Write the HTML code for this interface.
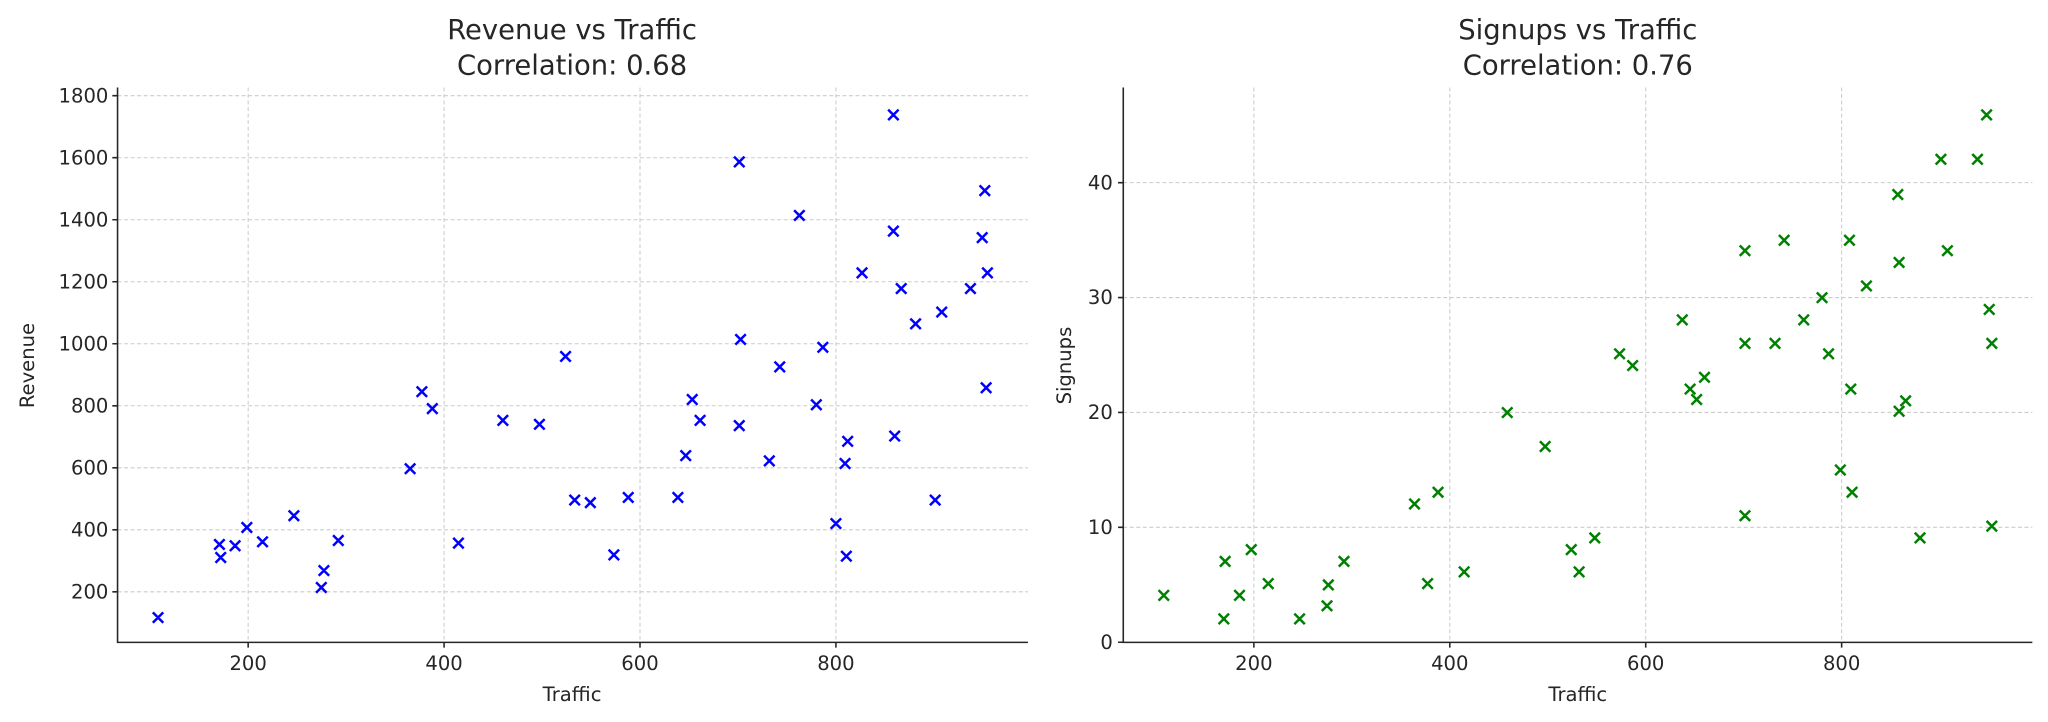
<!DOCTYPE html>
<html><head><meta charset="utf-8"><style>
html,body{margin:0;padding:0;background:#fff;}
svg{display:block;}
text{font-family:"DejaVu Sans","Liberation Sans",sans-serif;fill:#262626;}
</style></head><body>
<svg width="2048" height="722" viewBox="0 0 1568 553" preserveAspectRatio="none" xmlns="http://www.w3.org/2000/svg">
<rect width="1568" height="553" fill="#fff"/>
<g stroke="#cccccc" stroke-width="0.8" stroke-dasharray="3,2" fill="none">
<path d="M90 73.3H787M90 120.8H787M90 168.3H787M90 215.8H787M90 263.3H787M90 310.8H787M90 358.3H787M90 405.8H787M90 453.3H787"/>
<path d="M190 67V492M340 67V492M490 67V492M640 67V492"/>
<path d="M860 139.9H1556M860 227.9H1556M860 315.9H1556M860 403.9H1556M860 491.9H1556"/>
<path d="M960 67V492M1110 67V492M1260 67V492M1410 67V492"/>
</g>
<g stroke="#262626" stroke-width="1.2" fill="none">
<path d="M90 67V492H787"/>
<path d="M860 67V492H1556"/>
<path d="M90 73.3h-4M90 120.8h-4M90 168.3h-4M90 215.8h-4M90 263.3h-4M90 310.8h-4M90 358.3h-4M90 405.8h-4M90 453.3h-4"/>
<path d="M190 492v4M340 492v4M490 492v4M640 492v4"/>
<path d="M860 139.9h-4M860 227.9h-4M860 315.9h-4M860 403.9h-4M860 491.9h-4"/>
<path d="M960 492v4M1110 492v4M1260 492v4M1410 492v4"/>
</g>
<g font-size="15" text-anchor="end">
<text x="83" y="78.5">1800</text><text x="83" y="126">1600</text><text x="83" y="173.5">1400</text><text x="83" y="221">1200</text><text x="83" y="268.5">1000</text><text x="83" y="316">800</text><text x="83" y="363.5">600</text><text x="83" y="411">400</text><text x="83" y="458.5">200</text>
<text x="852" y="145">40</text><text x="852" y="233">30</text><text x="852" y="321">20</text><text x="852" y="409">10</text><text x="852" y="497">0</text>
</g>
<g font-size="15" text-anchor="middle">
<text x="190" y="513">200</text><text x="340" y="513">400</text><text x="490" y="513">600</text><text x="640" y="513">800</text>
<text x="960" y="513">200</text><text x="1110" y="513">400</text><text x="1260" y="513">600</text><text x="1410" y="513">800</text>
<text x="438" y="537">Traffic</text><text x="1208" y="537">Traffic</text>
<text transform="translate(26 280) rotate(-90)">Revenue</text>
<text transform="translate(820 280) rotate(-90)">Signups</text>
</g>
<g font-size="21" text-anchor="middle">
<text x="438" y="30">Revenue vs Traffic</text><text x="438" y="57">Correlation: 0.68</text>
<text x="1208" y="30">Signups vs Traffic</text><text x="1208" y="57">Correlation: 0.76</text>
</g>
<path fill="none" stroke="#0000ff" stroke-width="1.9" d="
M117 469l8 8m0-8l-8 8M164 413l8 8m0-8l-8 8M165 423l8 8m0-8l-8 8M176 414l8 8m0-8l-8 8M185 400l8 8m0-8l-8 8
M197 411l8 8m0-8l-8 8M221 391l8 8m0-8l-8 8M242 446l8 8m0-8l-8 8M244 433l8 8m0-8l-8 8M255 410l8 8m0-8l-8 8
M310 355l8 8m0-8l-8 8M319 296l8 8m0-8l-8 8M327 309l8 8m0-8l-8 8M347 412l8 8m0-8l-8 8M381 318l8 8m0-8l-8 8
M409 321l8 8m0-8l-8 8M429 269l8 8m0-8l-8 8M436 379l8 8m0-8l-8 8M448 381l8 8m0-8l-8 8M466 421l8 8m0-8l-8 8
M477 377l8 8m0-8l-8 8M515 377l8 8m0-8l-8 8M521 345l8 8m0-8l-8 8M526 302l8 8m0-8l-8 8M532 318l8 8m0-8l-8 8
M562 120l8 8m0-8l-8 8M563 256l8 8m0-8l-8 8M562 322l8 8m0-8l-8 8M585 349l8 8m0-8l-8 8M593 277l8 8m0-8l-8 8
M608 161l8 8m0-8l-8 8M621 306l8 8m0-8l-8 8M626 262l8 8m0-8l-8 8M636 397l8 8m0-8l-8 8M643 351l8 8m0-8l-8 8
M644 422l8 8m0-8l-8 8M645 334l8 8m0-8l-8 8M656 205l8 8m0-8l-8 8M680 84l8 8m0-8l-8 8M680 173l8 8m0-8l-8 8
M681 330l8 8m0-8l-8 8M686 217l8 8m0-8l-8 8M697 244l8 8m0-8l-8 8M717 235l8 8m0-8l-8 8M712 379l8 8m0-8l-8 8
M739 217l8 8m0-8l-8 8M748 178l8 8m0-8l-8 8M750 142l8 8m0-8l-8 8M751 293l8 8m0-8l-8 8M752 205l8 8m0-8l-8 8"/>
<path fill="none" stroke="#008000" stroke-width="1.9" d="
M887 452l8 8m0-8l-8 8M933 470l8 8m0-8l-8 8M934 426l8 8m0-8l-8 8M945 452l8 8m0-8l-8 8M954 417l8 8m0-8l-8 8
M967 443l8 8m0-8l-8 8M991 470l8 8m0-8l-8 8M1012 460l8 8m0-8l-8 8M1013 444l8 8m0-8l-8 8M1025 426l8 8m0-8l-8 8
M1079 382l8 8m0-8l-8 8M1089 443l8 8m0-8l-8 8M1097 373l8 8m0-8l-8 8M1117 434l8 8m0-8l-8 8M1150 312l8 8m0-8l-8 8
M1179 338l8 8m0-8l-8 8M1199 417l8 8m0-8l-8 8M1205 434l8 8m0-8l-8 8M1217 408l8 8m0-8l-8 8M1236 267l8 8m0-8l-8 8
M1246 276l8 8m0-8l-8 8M1284 241l8 8m0-8l-8 8M1290 294l8 8m0-8l-8 8M1295 302l8 8m0-8l-8 8M1301 285l8 8m0-8l-8 8
M1332 188l8 8m0-8l-8 8M1332 259l8 8m0-8l-8 8M1332 391l8 8m0-8l-8 8M1355 259l8 8m0-8l-8 8M1362 180l8 8m0-8l-8 8
M1377 241l8 8m0-8l-8 8M1391 224l8 8m0-8l-8 8M1396 267l8 8m0-8l-8 8M1405 356l8 8m0-8l-8 8M1412 180l8 8m0-8l-8 8
M1413 294l8 8m0-8l-8 8M1414 373l8 8m0-8l-8 8M1425 215l8 8m0-8l-8 8M1449 145l8 8m0-8l-8 8M1450 197l8 8m0-8l-8 8
M1450 311l8 8m0-8l-8 8M1455 303l8 8m0-8l-8 8M1466 408l8 8m0-8l-8 8M1482 118l8 8m0-8l-8 8M1487 188l8 8m0-8l-8 8
M1510 118l8 8m0-8l-8 8M1517 84l8 8m0-8l-8 8M1519 233l8 8m0-8l-8 8M1521 259l8 8m0-8l-8 8M1521 399l8 8m0-8l-8 8"/>
</svg>
</body></html>
